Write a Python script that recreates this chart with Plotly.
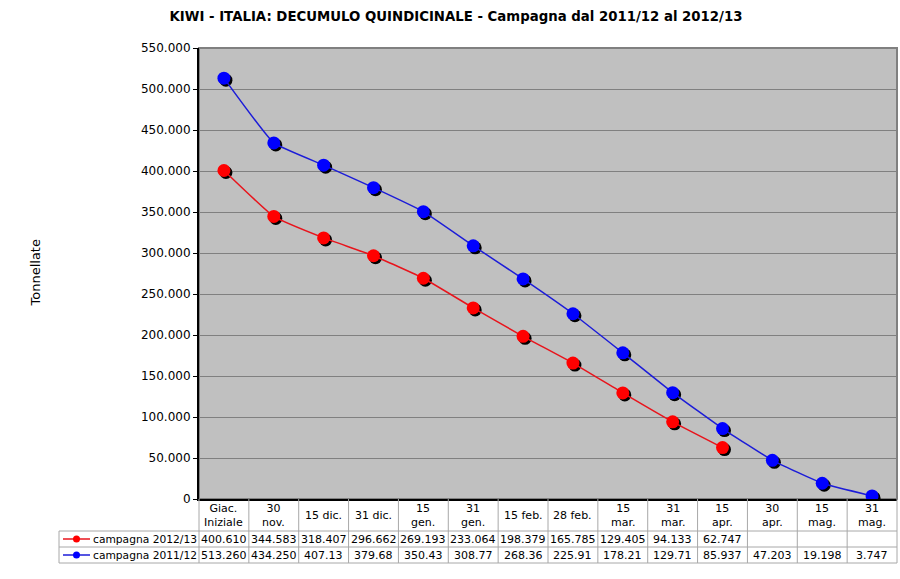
import plotly.graph_objects as go

# ---------------- data ----------------
categories = ["Giac.<br>Iniziale", "30<br>nov.", "15 dic.", "31 dic.", "15<br>gen.", "31<br>gen.",
              "15 feb.", "28 feb.", "15<br>mar.", "31<br>mar.", "15<br>apr.", "30<br>apr.",
              "15<br>mag.", "31<br>mag."]
series_names = ["campagna 2012/13", "campagna 2011/12"]
values_1213 = [400610, 344583, 318407, 296662, 269193, 233064, 198379, 165785, 129405, 94133, 62747]
values_1112 = [513260, 434250, 407130, 379680, 350430, 308770, 268360, 225910, 178210, 129710,
               85937, 47203, 19198, 3747]
table_1213 = ["400.610", "344.583", "318.407", "296.662", "269.193", "233.064", "198.379",
              "165.785", "129.405", "94.133", "62.747", "", "", ""]
table_1112 = ["513.260", "434.250", "407.13", "379.68", "350.43", "308.77", "268.36", "225.91",
              "178.21", "129.71", "85.937", "47.203", "19.198", "3.747"]
y_max = 550000
y_step = 50000
title_text = "KIWI - ITALIA: DECUMULO QUINDICINALE - Campagna dal 2011/12 al 2012/13"
y_title = "Tonnellate"

# ---------------- geometry ----------------
W, H = 900, 579
L, R, T, B = 199, 897, 48, 499
PW, PH = R - L, B - T
N = len(categories)
HEADER_BOT, ROW1_BOT, ROW2_BOT = 531, 547, 563
LABEL_LEFT = 59
SHADOW = 2

FONT = "Verdana, DejaVu Sans, sans-serif"
RED, BLUE = "#ff0000", "#0000ff"
RED_LINE, BLUE_LINE = "#e8141c", "#1c1cd8"
GRID = "#808080"
TABLE_LINE = "#a8a8a8"


def px_x(p):
    return (p - L) / PW


def px_y(p):
    return (B - p) / PH


xs = list(range(N))
dx = SHADOW * N / PW
dy = SHADOW * y_max / PH

fig = go.Figure()

# shadows (base axes, hidden, shifted ranges)
for vals in (values_1112, values_1213):
    fig.add_trace(go.Scatter(x=xs[:len(vals)], y=vals, mode="markers",
                             marker=dict(size=13, color="#000000"),
                             xaxis="x", yaxis="y", showlegend=False, hoverinfo="skip"))

# main series
fig.add_trace(go.Scatter(x=xs[:len(values_1112)], y=values_1112, mode="lines+markers",
                         name=series_names[1],
                         line=dict(color=BLUE_LINE, width=1.5, shape="spline", smoothing=0.35),
                         marker=dict(size=13, color=BLUE),
                         xaxis="x2", yaxis="y2", showlegend=False))
fig.add_trace(go.Scatter(x=xs[:len(values_1213)], y=values_1213, mode="lines+markers",
                         name=series_names[0],
                         line=dict(color=RED_LINE, width=1.5, shape="spline", smoothing=0.35),
                         marker=dict(size=13, color=RED),
                         xaxis="x2", yaxis="y2", showlegend=False))

shapes = []
# plot area border (grey, top/right)
shapes.append(dict(type="rect", xref="paper", yref="paper", x0=0, x1=1, y0=0, y1=1,
                   line=dict(color=GRID, width=2), layer="below"))
# table grid
for i in range(N + 1):
    shapes.append(dict(type="line", xref="paper", yref="paper", x0=i / N, x1=i / N,
                       y0=px_y(ROW2_BOT), y1=px_y(B), line=dict(color=TABLE_LINE, width=1)))
shapes.append(dict(type="line", xref="paper", yref="paper", x0=px_x(LABEL_LEFT), x1=px_x(LABEL_LEFT),
                   y0=px_y(ROW2_BOT), y1=px_y(HEADER_BOT), line=dict(color=TABLE_LINE, width=1)))
for yy in (HEADER_BOT, ROW1_BOT, ROW2_BOT):
    shapes.append(dict(type="line", xref="paper", yref="paper", x0=px_x(LABEL_LEFT), x1=1,
                       y0=px_y(yy), y1=px_y(yy), line=dict(color=TABLE_LINE, width=1)))

annotations = []
# header row
for i, c in enumerate(categories):
    annotations.append(dict(x=i, xref="x2", y=px_y((B + HEADER_BOT) / 2), yref="paper",
                            text=c, showarrow=False, xanchor="center", yanchor="middle",
                            font=dict(family=FONT, size=11, color="black")))
rows = [(series_names[0], table_1213, RED, RED_LINE, (HEADER_BOT + ROW1_BOT) / 2),
        (series_names[1], table_1112, BLUE, BLUE_LINE, (ROW1_BOT + ROW2_BOT) / 2)]
for name, vals, mcol, lcol, yc in rows:
    for i, v in enumerate(vals):
        if v:
            annotations.append(dict(x=i, xref="x2", y=px_y(yc), yref="paper", text=v,
                                    showarrow=False, xanchor="center", yanchor="middle",
                                    font=dict(family=FONT, size=11, color="black")))
    annotations.append(dict(x=px_x(LABEL_LEFT + 32), xref="paper", y=px_y(yc), yref="paper",
                            text=name, showarrow=False, xanchor="left", yanchor="middle",
                            font=dict(family=FONT, size=10.7, color="black")))
    shapes.append(dict(type="line", xref="paper", yref="paper", x0=px_x(LABEL_LEFT + 4),
                       x1=px_x(LABEL_LEFT + 31), y0=px_y(yc), y1=px_y(yc),
                       line=dict(color=lcol, width=1.5)))
    shapes.append(dict(type="circle", xref="paper", yref="paper", x0=px_x(LABEL_LEFT + 14),
                       x1=px_x(LABEL_LEFT + 21), y0=px_y(yc + 3.5), y1=px_y(yc - 3.5),
                       fillcolor=mcol, line=dict(color=mcol, width=0)))
# y title
annotations.append(dict(x=px_x(35), xref="paper", y=0.5, yref="paper", text=y_title,
                        textangle=-90, showarrow=False, xanchor="center", yanchor="middle",
                        font=dict(family=FONT, size=13, color="black")))

fig.update_layout(
    width=W, height=H,
    margin=dict(l=L, r=W - R, t=T, b=H - B, pad=0),
    paper_bgcolor="white", plot_bgcolor="#c0c0c0",
    separators=",.",
    title=dict(text="<b>" + title_text + "</b>", x=456 / W, xanchor="center",
               y=1 - 16 / H, yanchor="middle", font=dict(family=FONT, size=13.3, color="black")),
    xaxis=dict(range=[-0.5 - dx, N - 0.5 - dx], visible=False),
    yaxis=dict(range=[dy, y_max + dy], visible=False),
    xaxis2=dict(range=[-0.5, N - 0.5], overlaying="x", anchor="y2", side="bottom",
                showticklabels=False, showgrid=False, zeroline=False, ticks="",
                showline=True, linecolor="black", linewidth=2),
    yaxis2=dict(range=[0, y_max], overlaying="y", anchor="x2", side="left",
                dtick=y_step, tick0=0, tickformat=",d", showgrid=True, gridcolor=GRID,
                gridwidth=1, zeroline=False, ticks="outside", ticklen=4, tickcolor="black",
                showline=True, linecolor="black", linewidth=2,
                tickfont=dict(family=FONT, size=12, color="black")),
    shapes=shapes, annotations=annotations, showlegend=False,
)

fig.write_html("out.html", post_script="document.body.style.margin='0';",
               config={"displayModeBar": False})
